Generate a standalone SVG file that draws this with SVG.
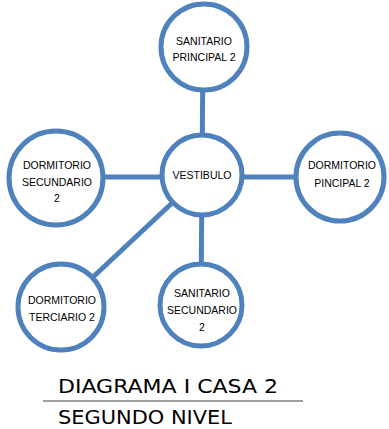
<svg xmlns="http://www.w3.org/2000/svg" width="389" height="429" viewBox="0 0 389 429">
<style>
.node{fill:#fff;stroke:#4f81bd;stroke-width:5}
.conn{stroke:#4f81bd;stroke-width:5;fill:none}
.lbl{font-family:"Liberation Sans",Arial,sans-serif;font-size:10.5px;fill:#000;text-anchor:middle}
.title{font-family:"DejaVu Sans",sans-serif;font-size:19px;fill:#000}
</style>
<rect width="389" height="429" fill="#fff"/>
<g id="connectors">
<line class="conn" x1="203" y1="47" x2="202" y2="175"/>
<line class="conn" x1="55" y1="177" x2="340" y2="177"/>
<line class="conn" x1="202" y1="175" x2="201" y2="305"/>
<line class="conn" x1="202" y1="175" x2="61" y2="307"/>
</g>
<g id="sanitario-principal">
<circle class="node" cx="204" cy="47" r="43"/>
<text class="lbl" x="204" y="45">SANITARIO</text>
<text class="lbl" x="204" y="61">PRINCIPAL 2</text>
</g>
<g id="vestibulo">
<circle class="node" cx="202" cy="175" r="40"/>
<text class="lbl" x="202" y="179">VESTIBULO</text>
</g>
<g id="dormitorio-secundario">
<circle class="node" cx="56" cy="178" r="47"/>
<text class="lbl" x="57" y="169">DORMITORIO</text>
<text class="lbl" x="57" y="186">SECUNDARIO</text>
<text class="lbl" x="57" y="202">2</text>
</g>
<g id="dormitorio-principal">
<circle class="node" cx="340" cy="177" r="44"/>
<text class="lbl" x="342" y="169">DORMITORIO</text>
<text class="lbl" x="342" y="187">PINCIPAL 2</text>
</g>
<g id="dormitorio-terciario">
<circle class="node" cx="61" cy="307" r="43"/>
<text class="lbl" x="62" y="304">DORMITORIO</text>
<text class="lbl" x="62" y="321">TERCIARIO 2</text>
</g>
<g id="sanitario-secundario">
<circle class="node" cx="201" cy="305" r="41"/>
<text class="lbl" x="202" y="297">SANITARIO</text>
<text class="lbl" x="202" y="314">SECUNDARIO</text>
<text class="lbl" x="202" y="331">2</text>
</g>
<g id="title">
<text class="title" x="58" y="393" textLength="220" lengthAdjust="spacingAndGlyphs">DIAGRAMA I CASA 2</text>
<line x1="43" y1="401" x2="303" y2="401" stroke="#808080" stroke-width="1.5"/>
<text class="title" x="58" y="424" textLength="174" lengthAdjust="spacingAndGlyphs">SEGUNDO NIVEL</text>
</g>
</svg>
